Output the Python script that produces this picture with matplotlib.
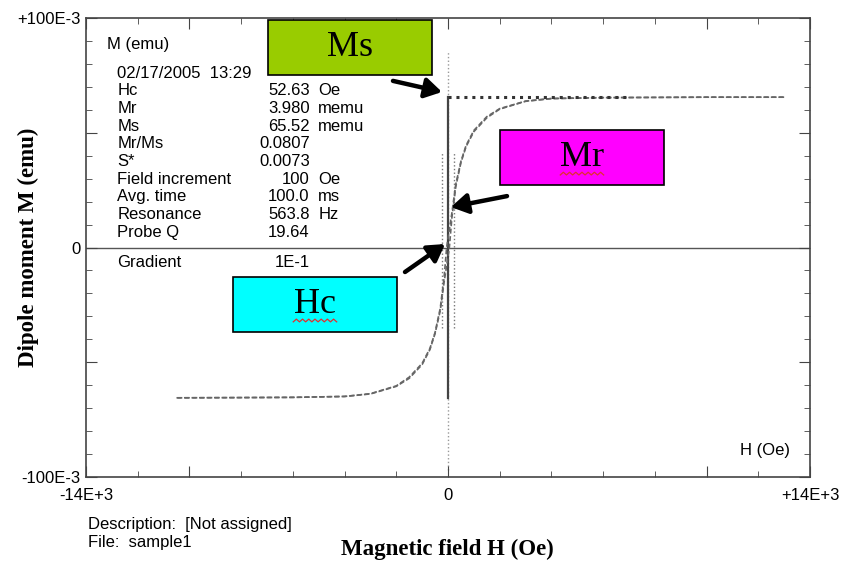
import numpy as np
import matplotlib.pyplot as plt
from matplotlib.patches import Rectangle

# --- hysteresis loop (H in Oe, M in emu) ---
H_desc = [13000, 10000, 8000, 6000, 4000, 3000, 2000, 1500, 1000, 700, 500, 300, 150, 0,
          -52, -150, -300, -500, -700, -1000, -1500, -2000, -3000, -4000, -6000, -8000, -10500]
M_desc = [65.5e-3, 65.5e-3, 65.4e-3, 65.3e-3, 64.9e-3, 63.8e-3, 60.5e-3, 57.0e-3, 51.0e-3, 44.5e-3,
          37.5e-3, 27.5e-3, 15.0e-3, 4.0e-3, 0.0, -13.0e-3, -26.5e-3, -37.0e-3, -44.0e-3, -50.5e-3,
          -56.5e-3, -60.3e-3, -63.7e-3, -64.9e-3, -65.3e-3, -65.4e-3, -65.5e-3]
H_asc = [-10500, -8000, -6000, -4000, -3000, -2000, -1500, -1000, -700, -500, -300, -150, 0, 52,
         150, 300, 500, 700, 1000, 1500, 2000, 3000, 4000, 6000, 8000, 10000, 13000]
M_asc = [-65.5e-3, -65.4e-3, -65.3e-3, -64.9e-3, -63.8e-3, -60.5e-3, -57.0e-3, -51.0e-3, -44.5e-3,
         -37.5e-3, -27.5e-3, -15.0e-3, -4.0e-3, 0.0, 13.0e-3, 26.5e-3, 37.0e-3, 44.0e-3, 50.5e-3,
         56.5e-3, 60.3e-3, 63.7e-3, 64.9e-3, 65.3e-3, 65.4e-3, 65.5e-3, 65.5e-3]

Ms = 65.52e-3
Ms_line_H = [0, 7000]
guide_H = [-250, 250]
guide_M = [-35e-3, 41e-3]
zero_dots_M = [-97e-3, 85e-3]

info_labels = ["02/17/2005  13:29", "Hc", "Mr", "Ms", "Mr/Ms", "S*", "Field increment",
               "Avg. time", "Resonance", "Probe Q"]
info_values = ["", "52.63", "3.980", "65.52", "0.0807", "0.0073", "100", "100.0", "563.8", "19.64"]
info_units = ["", "Oe", "memu", "memu", "", "", "Oe", "ms", "Hz", ""]

xtick_major = [-14000, -10000, 0, 10000, 14000]
xtick_labels = ["-14E+3", "", "0", "", "+14E+3"]
ytick_major = [-0.1, -0.05, 0, 0.05, 0.1]
ytick_labels = ["-100E-3", "", "0", "", "+100E-3"]

sans = "Liberation Sans"
serif = "Liberation Serif"
fs = 12

fig = plt.figure(figsize=(8.41, 5.67), dpi=100)
ax = fig.add_axes([86 / 841, 1 - 477 / 567, 724 / 841, 459 / 567])
ax.set_xlim(-14000, 14000)
ax.set_ylim(-0.1, 0.1)

# reference lines
ax.axhline(0, color="#555555", lw=1.0, zorder=1)
ax.plot([0, 0], zero_dots_M, color="#999999", lw=1.0, ls=":", zorder=1)
ax.plot([0, 0], [-Ms, Ms], color="#444444", lw=1.6, zorder=2)
for h in guide_H:
    ax.plot([h, h], guide_M, color="#777777", lw=1.0, ls=":", zorder=2)

# loop
ax.plot(H_desc, M_desc, color="#666666", lw=1.2, ls=(0, (3, 1.5)), zorder=3)
ax.plot(H_asc, M_asc, color="#666666", lw=1.2, ls=(0, (3, 1.5)), zorder=3)
ax.plot(Ms_line_H, [Ms, Ms], color="#333333", lw=2.2, ls=(0, (1, 1.6)), zorder=3)

# ticks
ax.set_xticks(xtick_major)
ax.set_xticklabels(xtick_labels)
ax.set_xticks(np.arange(-12000, 12001, 2000), minor=True)
ax.set_yticks(ytick_major)
ax.set_yticklabels(ytick_labels)
ax.set_yticks(np.arange(-0.09, 0.0901, 0.01), minor=True)
ax.tick_params(which="both", direction="in", top=True, right=True, color="#444444")
ax.tick_params(which="major", length=8, labelsize=12)
ax.tick_params(which="minor", length=4)
ax.tick_params(axis="x", pad=8)
ax.tick_params(axis="y", pad=4)
for lab in ax.get_xticklabels() + ax.get_yticklabels():
    lab.set_family(sans)
for sp in ax.spines.values():
    sp.set_color("#444444")
    sp.set_linewidth(1.2)

# info block
ax.text(0.029, 0.943, "M (emu)", transform=ax.transAxes, family=sans, fontsize=fs, va="center")
for i, (lab, val, unit) in enumerate(zip(info_labels, info_values, info_units)):
    y = 0.880 - i * 0.0385
    ax.text(0.043, y, lab, transform=ax.transAxes, family=sans, fontsize=fs, va="center")
    ax.text(0.309, y, val, transform=ax.transAxes, family=sans, fontsize=fs, va="center", ha="right")
    ax.text(0.321, y, unit, transform=ax.transAxes, family=sans, fontsize=fs, va="center")
ax.text(0.043, 0.468, "Gradient", transform=ax.transAxes, family=sans, fontsize=fs, va="center")
ax.text(0.309, 0.468, "1E-1", transform=ax.transAxes, family=sans, fontsize=fs, va="center", ha="right")
ax.text(0.972, 0.057, "H (Oe)", transform=ax.transAxes, family=sans, fontsize=fs, va="center", ha="right")

# coloured callouts
boxes = [("Ms", "#99CC00", 0.2514, 0.8758, False),
         ("Mr", "#FF00FF", 0.5718, 0.636, True),
         ("Hc", "#00FFFF", 0.203, 0.316, True)]
for name, col, x0, y0, squiggle in boxes:
    ax.add_patch(Rectangle((x0, y0), 0.2265, 0.12, transform=ax.transAxes, facecolor=col,
                           edgecolor="black", lw=1.2, zorder=5, clip_on=False))
    cx = x0 + 0.2265 / 2
    ax.text(cx, y0 + 0.06, name, transform=ax.transAxes, family=serif, fontsize=26,
            ha="center", va="center", zorder=6)
    if squiggle:
        # spell-check underline
        sx = np.linspace(cx - 0.03, cx + 0.03, 15)
        sy = y0 + 0.022 + np.where(np.arange(15) % 2 == 0, 0.0, 0.006)
        ax.plot(sx, sy, transform=ax.transAxes, color="#E03030", lw=0.9, zorder=6, clip_on=False)

arrows = [((0.424, 0.863), (0.4917, 0.8388)),
          ((0.5815, 0.612), (0.504, 0.588)),
          ((0.4406, 0.4466), (0.4959, 0.5076))]
for tail, head in arrows:
    ax.annotate("", xy=head, xytext=tail, xycoords="axes fraction", textcoords="axes fraction",
                arrowprops=dict(arrowstyle="-|>,head_length=0.5,head_width=0.3", lw=3.2, color="black",
                                shrinkA=0, shrinkB=0, mutation_scale=20), zorder=7)

# labels
fig.text(28 / 841, 1 - 247 / 567, "Dipole moment M (emu)", rotation=90, ha="center", va="center",
         family=serif, fontweight="bold", fontsize=16.5)
fig.text(447 / 841, 1 - 549 / 567, "Magnetic field H (Oe)", ha="center", va="center",
         family=serif, fontweight="bold", fontsize=16.5)
fig.text(88 / 841, 1 - 524 / 567, "Description:  [Not assigned]", family=sans, fontsize=fs, va="center")
fig.text(88 / 841, 1 - 543 / 567, "File:  sample1", family=sans, fontsize=fs, va="center")

fig.savefig("out.png", dpi=100)
